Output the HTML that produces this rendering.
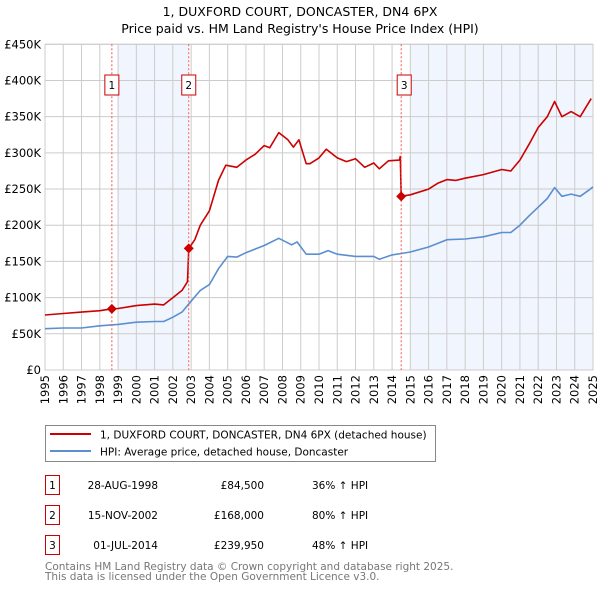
<!DOCTYPE html>
<html><head><meta charset="utf-8"><style>
body{margin:0;background:#fff;font-family:"DejaVu Sans","Liberation Sans",sans-serif;}
svg text{font-family:"DejaVu Sans","Liberation Sans",sans-serif;}
</style></head><body>
<svg id="chart" width="600" height="590" xmlns="http://www.w3.org/2000/svg">
<text x="300" y="16" text-anchor="middle" font-size="12.5" fill="#000">1, DUXFORD COURT, DONCASTER, DN4 6PX</text>
<text x="300" y="33" text-anchor="middle" font-size="12.5" fill="#000">Price paid vs. HM Land Registry's House Price Index (HPI)</text>
<g id="shade"></g><g id="grid"></g><g id="axes"></g><g id="series"></g><g id="marks"></g>
<g>
<rect x="45.5" y="425.5" width="390" height="36" fill="#fff" stroke="#888"/>
<line x1="50" y1="434" x2="91" y2="434" stroke="#cc0000" stroke-width="2"/>
<text x="100" y="438.5" font-size="10.5">1, DUXFORD COURT, DONCASTER, DN4 6PX (detached house)</text>
<line x1="50" y1="451" x2="91" y2="451" stroke="#5b8fd0" stroke-width="2"/>
<text x="100" y="455.5" font-size="10.5">HPI: Average price, detached house, Doncaster</text>
</g>
<g id="table" font-size="10.5"></g>
<text x="45" y="570" font-size="10.5" fill="#777">Contains HM Land Registry data © Crown copyright and database right 2025.</text>
<text x="45" y="580" font-size="10.5" fill="#777">This data is licensed under the Open Government Licence v3.0.</text>
</svg>
<script>
const yTicks=[0,50000,100000,150000,200000,250000,300000,350000,400000,450000];
const yTickLabels=["£0","£50K","£100K","£150K","£200K","£250K","£300K","£350K","£400K","£450K"];
const years=[1995,1996,1997,1998,1999,2000,2001,2002,2003,2004,2005,2006,2007,2008,2009,2010,2011,2012,2013,2014,2015,2016,2017,2018,2019,2020,2021,2022,2023,2024,2025];
const hpiT=[1995,1996,1997,1998,1999,2000,2001,2001.5,2002,2002.5,2003,2003.5,2004,2004.5,2005,2005.5,2006,2007,2007.8,2008.5,2008.8,2009.3,2010,2010.5,2011,2012,2013,2013.3,2014,2014.5,2015,2016,2017,2018,2019,2020,2020.5,2021,2021.5,2022,2022.5,2022.9,2023.3,2023.8,2024.3,2024.8,2025];
const hpiV=[57,58,58,61,63,66,67,67,73,80,95,110,118,140,157,156,162,172,182,173,177,160,160,165,160,157,157,153,159,161,163,170,180,181,184,190,190,200,213,225,237,252,240,243,240,249,253];
const redT=[1995,1996,1997,1998,1998.66,1999,2000,2001,2001.5,2002,2002.5,2002.8,2002.87,2003.2,2003.5,2004,2004.5,2004.9,2005.5,2006,2006.5,2007,2007.3,2007.8,2008.3,2008.6,2008.9,2009.3,2009.5,2010,2010.4,2011,2011.5,2012,2012.5,2013,2013.3,2013.8,2014.4,2014.45,2014.5,2015,2016,2016.5,2017,2017.5,2018,2019,2020,2020.5,2021,2021.5,2022,2022.5,2022.9,2023.3,2023.8,2024.3,2024.9];
const redV=[76,78,80,82,84.5,85,89,91,90,100,110,122,168,180,200,220,262,283,280,290,298,310,307,328,318,308,318,285,285,293,305,293,288,292,280,286,278,289,290,295,240,242,250,258,263,262,265,270,277,275,290,312,335,350,371,350,357,350,375];
const saleYears=[1998.66,2002.87,2014.5];
const saleValues=[84500,168000,239950];
const saleDates=["28-AUG-1998","15-NOV-2002","01-JUL-2014"];
const salePrices=["£84,500","£168,000","£239,950"];
const saleHpi=["36% ↑ HPI","80% ↑ HPI","48% ↑ HPI"];
const shadeRanges=[[1999,2002.87],[2015,2025]];

const NS="http://www.w3.org/2000/svg";
const X0=45,X1=593,Y0=370,Y1=44.3;
const xs=t=>X0+(t-1995)/(2025-1995)*(X1-X0);
const ys=v=>Y0-v/450000*(Y0-Y1);
function mk(tag,attrs,parent,txt){const e=document.createElementNS(NS,tag);for(const k in attrs)e.setAttribute(k,attrs[k]);if(txt!==undefined)e.textContent=txt;document.getElementById(parent).appendChild(e);return e;}

shadeRanges.forEach(r=>{const e=mk('rect',{x:xs(r[0]),y:Y1,width:xs(r[1])-xs(r[0]),height:Y0-Y1,fill:'#eef3fc',opacity:0.8},'shade');

});
yTicks.forEach((v,i)=>{const l=mk('line',{x1:X0,x2:X1,y1:ys(v),y2:ys(v),stroke:'#ccc','stroke-width':1},'grid');


const t=mk('text',{x:X0-4,y:ys(v)+4,'text-anchor':'end','font-size':11.5},'axes',yTickLabels[i]);

});
years.forEach(y=>{const l=mk('line',{x1:xs(y),x2:xs(y),y1:Y1,y2:Y0,stroke:'#ccc','stroke-width':1},'grid');


const t=mk('text',{x:0,y:0,'text-anchor':'end','font-size':11.5,transform:`translate(${xs(y)+4},${Y0+5}) rotate(-90)`},'axes',String(y));

});
const ax=mk('rect',{x:X0,y:Y1,width:X1-X0,height:Y0-Y1,fill:'none',stroke:'#ccc'},'axes');


saleYears.forEach((s,i)=>{const l=mk('line',{x1:xs(s),x2:xs(s),y1:Y1,y2:Y0,stroke:'#e55','stroke-width':1,'stroke-dasharray':'2,2'},'marks');


const bx=xs(s)-(i==2?4:7);
const b=mk('rect',{x:bx,y:75,width:14,height:20,fill:'#fff',stroke:'#c00'},'marks');


const t=mk('text',{x:bx+7,y:89,'text-anchor':'middle','font-size':10.5},'marks',String(i+1));

});
function path(T,V,scale,color,name){let d='';T.forEach((t,i)=>{d+=(i?'L':'M')+xs(t).toFixed(1)+','+ys(V[i]*scale).toFixed(1);});
const p=mk('path',{d:d,fill:'none',stroke:color,'stroke-width':1.6,'stroke-linejoin':'round'},'series');

}
path(hpiT,hpiV,1000,'#5b8fd0','hpi-line');
path(redT,redV,1000,'#cc0000','property-price-line');
saleYears.forEach((s,i)=>{const c=mk('path',{d:`M${xs(s)},${ys(saleValues[i])-5}l5,5l-5,5l-5,-5z`,fill:'#cc0000'},'marks');

});
saleDates.forEach((d,i)=>{const y0=475+i*30;
const b=mk('rect',{x:45.5,y:y0+0.5,width:14,height:19,fill:'#fff',stroke:'#c00'},'table');


const n=mk('text',{x:52.5,y:y0+14,'text-anchor':'middle'},'table',String(i+1));


const a=mk('text',{x:158,y:y0+14,'text-anchor':'end'},'table',d);


const p=mk('text',{x:264,y:y0+14,'text-anchor':'end'},'table',salePrices[i]);


const h=mk('text',{x:312,y:y0+14},'table',saleHpi[i]);

});
</script>
</body></html>
